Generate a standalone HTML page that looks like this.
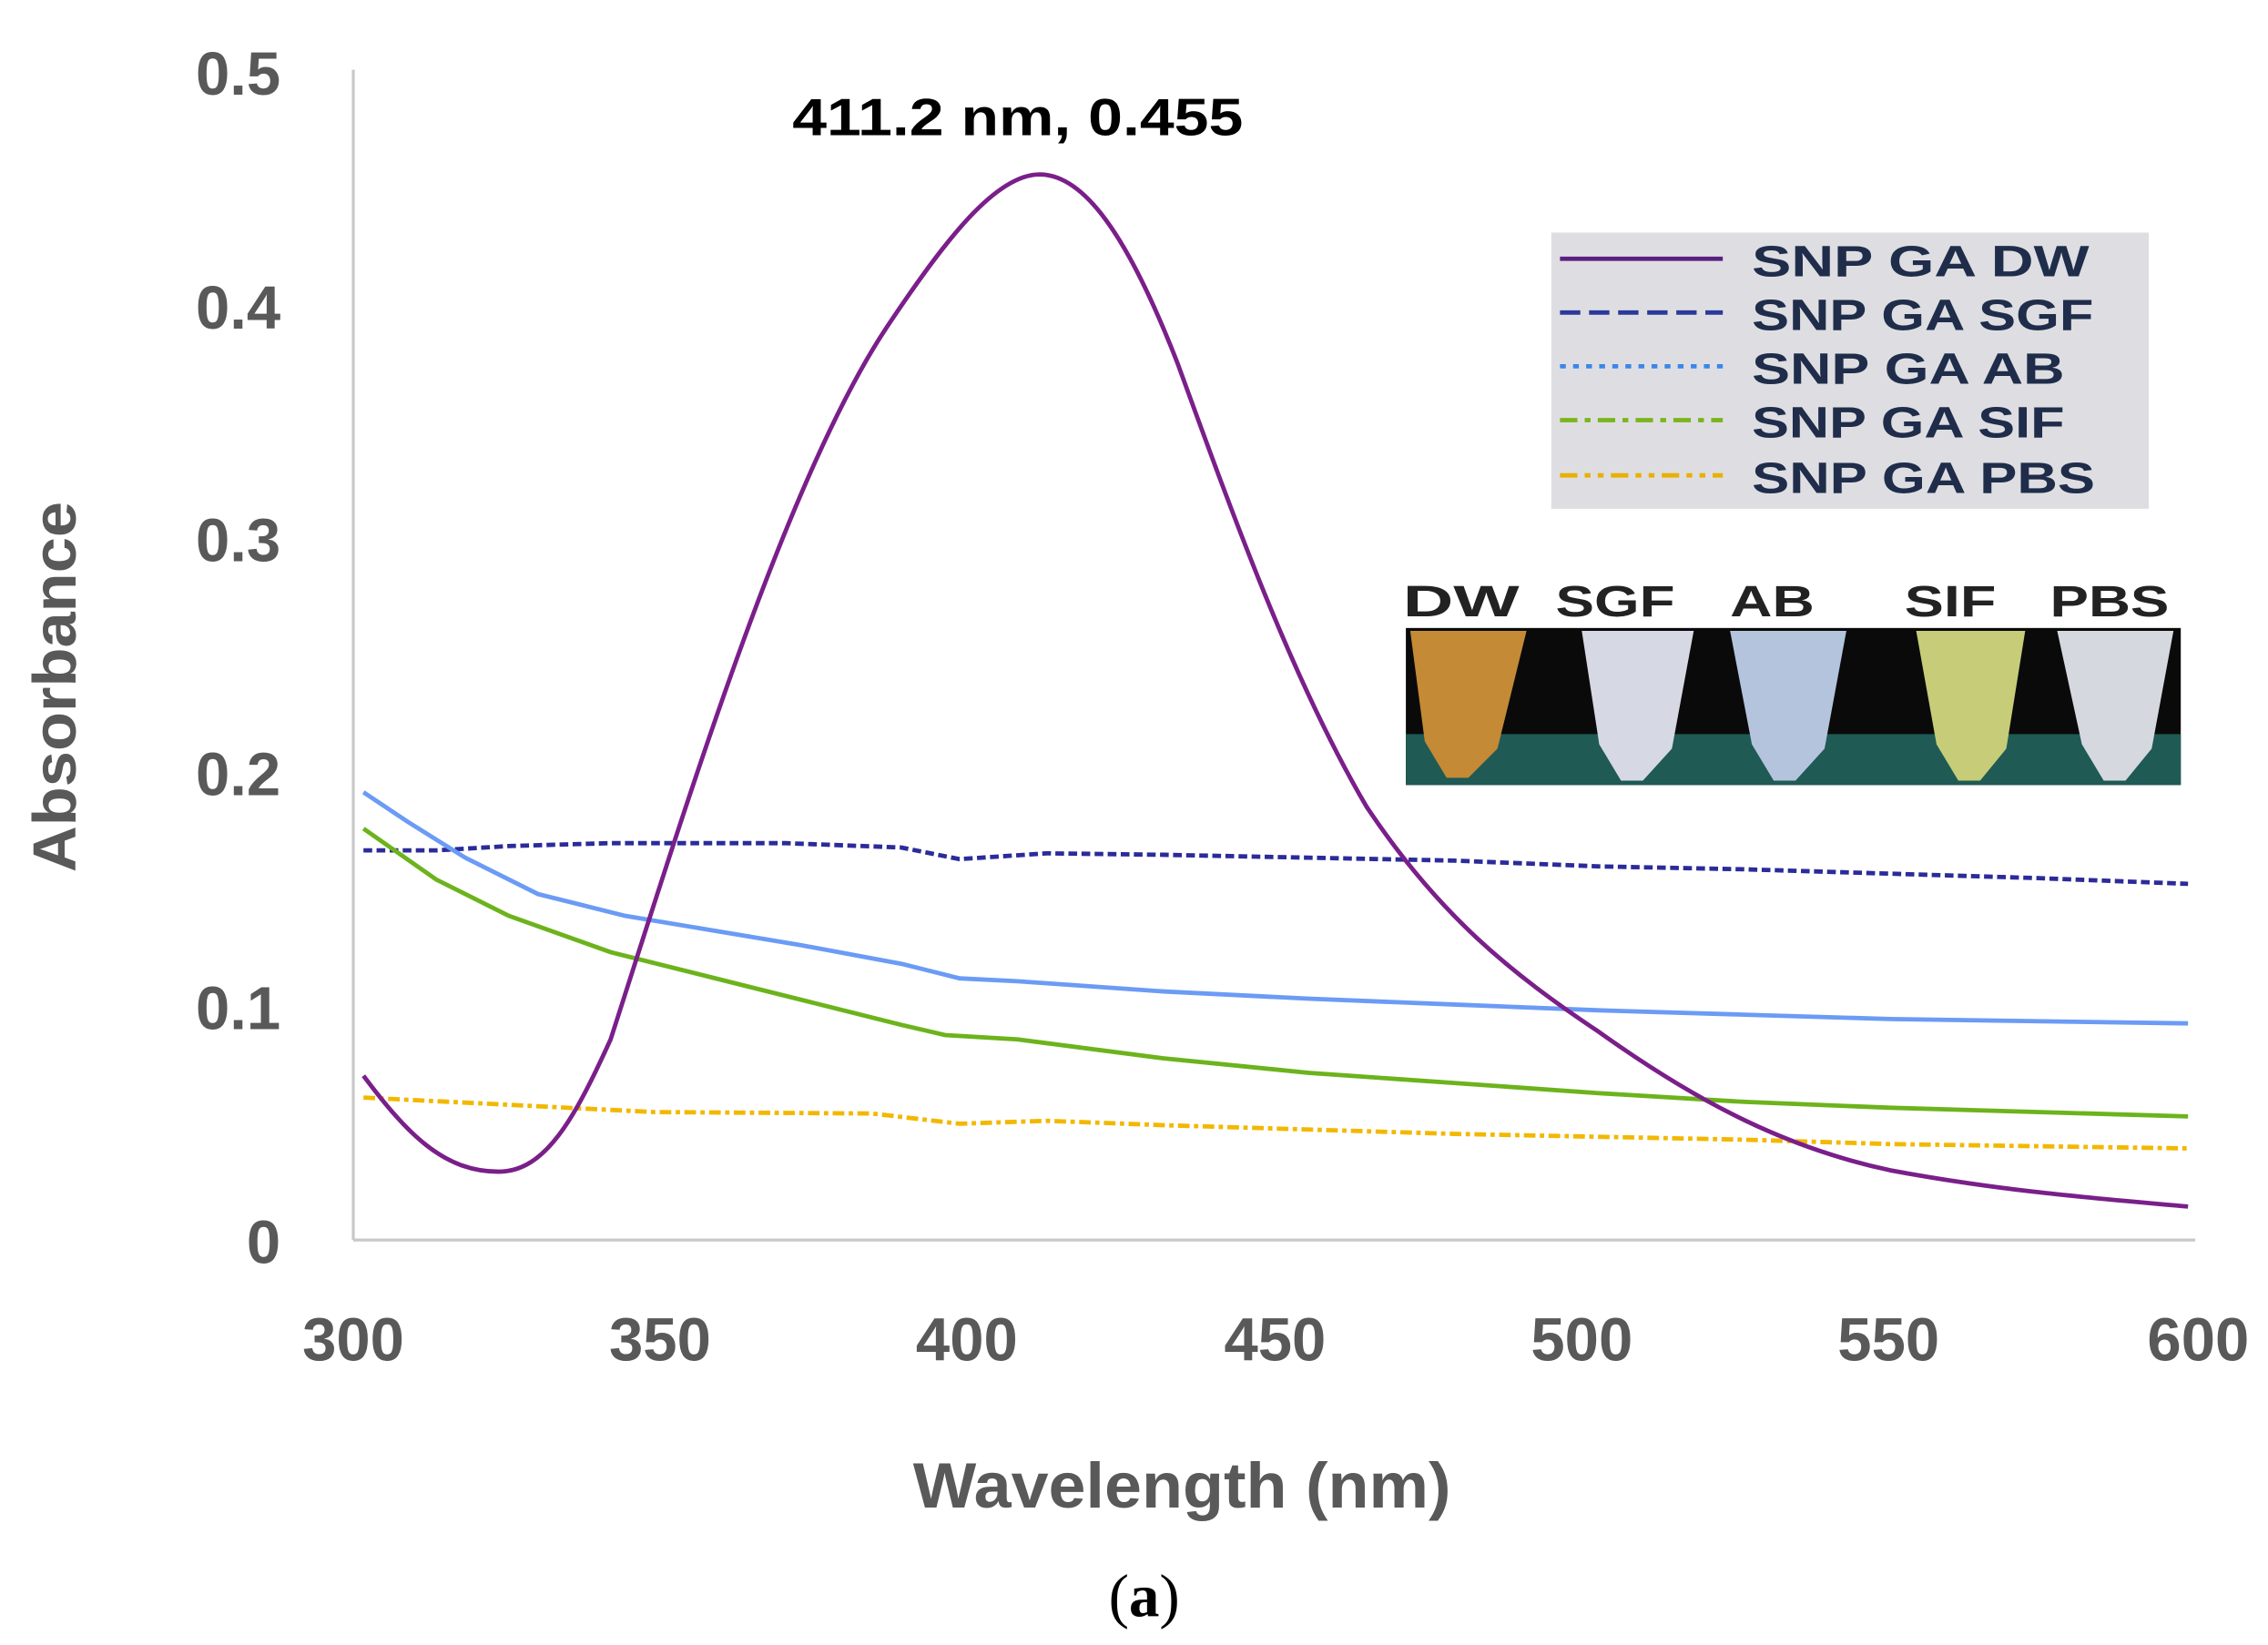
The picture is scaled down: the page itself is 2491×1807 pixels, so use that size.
<!DOCTYPE html>
<html><head><meta charset="utf-8"><style>html,body{margin:0;padding:0;background:#fff}svg{display:block}</style></head>
<body>
<svg width="2491" height="1807" viewBox="0 0 1560 1131.6" preserveAspectRatio="none" xmlns="http://www.w3.org/2000/svg" font-family="Liberation Sans, sans-serif">
<rect width="1560" height="1132" fill="#fff"/>
<line x1="243" y1="48" x2="243" y2="853" stroke="#c8c8c8" stroke-width="2"/>
<line x1="243" y1="853" x2="1510" y2="853" stroke="#c8c8c8" stroke-width="2"/>
<g font-size="42" font-weight="bold" fill="#595959" text-anchor="end">
<text x="193" y="65">0.5</text><text x="193" y="226">0.4</text><text x="193" y="386">0.3</text>
<text x="193" y="547">0.2</text><text x="193" y="708">0.1</text><text x="193" y="869">0</text>
</g>
<g font-size="42" font-weight="bold" fill="#595959" text-anchor="middle">
<text x="243" y="936">300</text><text x="454" y="936">350</text><text x="665" y="936">400</text>
<text x="877" y="936">450</text><text x="1088" y="936">500</text><text x="1299" y="936">550</text><text x="1512" y="936">600</text>
</g>
<text x="628" y="1037" font-size="44" font-weight="bold" fill="#595959" textLength="370" lengthAdjust="spacingAndGlyphs">Wavelength (nm)</text>
<text transform="translate(52,600) rotate(-90)" font-size="42" font-weight="bold" fill="#595959" textLength="255" lengthAdjust="spacingAndGlyphs">Absorbance</text>
<text x="787" y="1112" font-size="42" font-family="Liberation Serif, serif" text-anchor="middle" fill="#000">(<tspan font-weight="bold">a</tspan>)</text>
<text x="545" y="93" font-size="36" font-weight="bold" fill="#000" textLength="310" lengthAdjust="spacingAndGlyphs">411.2 nm, 0.455</text>
<g fill="none" stroke-width="3">
<polyline stroke="#2b2b9a" stroke-dasharray="6,3" points="250,585 300,585 350,582 420,580 540,580 620,583 660,591 720,587 800,588 900,590 1000,592 1100,596 1200,598 1300,601 1400,604 1505,608"/>
<polyline stroke="#6b9bf5" points="250,545 280,565 320,590 370,615 430,630 490,640 550,650 620,663 660,673 700,675 800,682 900,687 1000,691 1100,695 1200,698 1300,701 1505,704"/>
<polyline stroke="#6cb31c" points="250,570 300,605 350,630 420,655 500,675 560,690 620,705 650,712 700,715 800,728 900,738 1000,745 1100,752 1200,758 1300,762 1505,768"/>
<polyline stroke="#f2b800" stroke-dasharray="8,3,3,3" points="250,755 350,760 450,765 600,766 660,773 720,771 800,774 900,777 1000,780 1100,782 1200,784 1300,787 1505,790"/>
<path stroke="#7a1f8a" stroke-linejoin="round" d="M250,740 C280,780 305,806 343,806 C375,806 395,770 420,715 C470,560 540,330 610,225 C650,165 685,120 715,120 C745,120 775,160 810,250 C850,360 890,470 940,555 C990,630 1040,670 1100,710 C1170,760 1230,790 1300,805 C1380,820 1450,825 1505,830"/>
</g>
<rect x="1067" y="160" width="411" height="190" fill="#dedee2"/>
<g stroke-width="3">
<line x1="1073" y1="178" x2="1185" y2="178" stroke="#5a2080"/>
<line x1="1073" y1="215" x2="1185" y2="215" stroke="#2b3a9a" stroke-dasharray="14,6"/>
<line x1="1073" y1="252" x2="1185" y2="252" stroke="#3a86e8" stroke-dasharray="4,5"/>
<line x1="1073" y1="289" x2="1185" y2="289" stroke="#7ab41c" stroke-dasharray="12,5,4,5"/>
<line x1="1073" y1="327" x2="1185" y2="327" stroke="#e8b000" stroke-dasharray="12,5,4,5,4,5"/>
</g>
<g font-size="30" font-weight="bold" fill="#1f2d4a" lengthAdjust="spacingAndGlyphs">
<text x="1205" y="190" textLength="232" lengthAdjust="spacingAndGlyphs">SNP GA DW</text>
<text x="1205" y="227" textLength="235" lengthAdjust="spacingAndGlyphs">SNP GA SGF</text>
<text x="1205" y="264" textLength="215" lengthAdjust="spacingAndGlyphs">SNP GA AB</text>
<text x="1205" y="301" textLength="215" lengthAdjust="spacingAndGlyphs">SNP GA SIF</text>
<text x="1205" y="339" textLength="236" lengthAdjust="spacingAndGlyphs">SNP GA PBS</text>
</g>
<g font-size="30" font-weight="bold" fill="#222">
<text x="965" y="424" textLength="80" lengthAdjust="spacingAndGlyphs">DW</text>
<text x="1070" y="424" textLength="82" lengthAdjust="spacingAndGlyphs">SGF</text>
<text x="1190" y="424" textLength="58" lengthAdjust="spacingAndGlyphs">AB</text>
<text x="1310" y="424" textLength="63" lengthAdjust="spacingAndGlyphs">SIF</text>
<text x="1410" y="424" textLength="82" lengthAdjust="spacingAndGlyphs">PBS</text>
</g>
<rect x="967" y="432" width="533" height="108" fill="#0a0a0a"/>
<rect x="967" y="505" width="533" height="35" fill="#1f5a55"/>
<g>
<polygon points="970,434 1050,434 1030,515 1010,535 995,535 980,510" fill="#c48a35"/>
<polygon points="1088,434 1165,434 1150,515 1130,537 1115,537 1100,512" fill="#d6d9e4"/>
<polygon points="1190,434 1270,434 1255,515 1235,537 1220,537 1205,512" fill="#b4c4dc"/>
<polygon points="1318,434 1393,434 1380,515 1362,537 1347,537 1332,512" fill="#c6cc78"/>
<polygon points="1415,434 1495,434 1480,515 1462,537 1447,537 1432,512" fill="#d6d8e0"/>
</g>
</svg>
</body></html>
